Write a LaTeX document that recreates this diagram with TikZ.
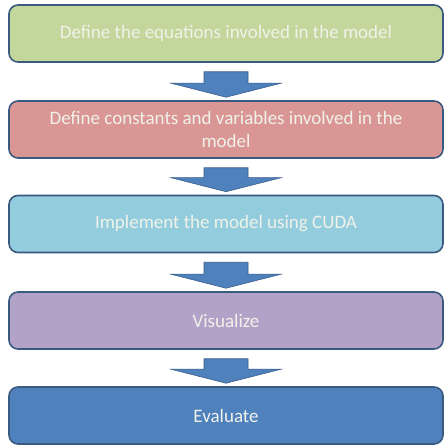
\documentclass[tikz,border=0pt]{standalone}
\usepackage{fontspec}
\setmainfont{Carlito}
\usetikzlibrary{calc}

\definecolor{stepgreen}{HTML}{C3D69B}
\definecolor{stepred}{HTML}{D99694}
\definecolor{stepcyan}{HTML}{93CDDD}
\definecolor{steppurple}{HTML}{B3A2C7}
\definecolor{stepblue}{HTML}{4F81BD}
\definecolor{stepline}{HTML}{3B5A80}
\definecolor{arrowline}{HTML}{385D8A}
\definecolor{steptext}{HTML}{F0F2EA}

\tikzset{
    stepbox/.style={draw=stepline, line width=1.6pt, rounded corners=9pt,
        minimum width=434pt, minimum height=57pt, align=center, inner sep=0pt,
        text=steptext, font=\fontsize{19}{23}\selectfont},
    blockarrow/.style={fill=stepblue, draw=arrowline, line width=0.6pt}
}

\begin{document}
\begin{tikzpicture}[x=1pt, y=1pt]
    \fill[white] (0,0) rectangle (446,446);
    \node[stepbox, fill=stepgreen] (b1) at (226, 412.5) {Define the equations involved in the model};
    \node[stepbox, fill=stepred] (b2) at (226, 316.5) {Define constants and variables involved in the\\model};
    \node[stepbox, fill=stepcyan] (b3) at (226, 222) {Implement the model using CUDA};
    \node[stepbox, fill=steppurple] (b4) at (226, 125.5) {Visualize};
    \node[stepbox, fill=stepblue] (b5) at (226, 30.5) {Evaluate};

    % block arrows between the steps
    \foreach \a/\b in {b1/b2, b2/b3, b3/b4, b4/b5}
        \fill[blockarrow] ($(\a.south)+(-22,-9)$) -- ($(\a.south)+(22,-9)$)
            -- ($(\b.north)+(22,17)$) -- ($(\b.north)+(55,17)$)
            -- ($(\b.north)+(0,3)$) -- ($(\b.north)+(-55,17)$)
            -- ($(\b.north)+(-22,17)$) -- cycle;
\end{tikzpicture}
\end{document}
